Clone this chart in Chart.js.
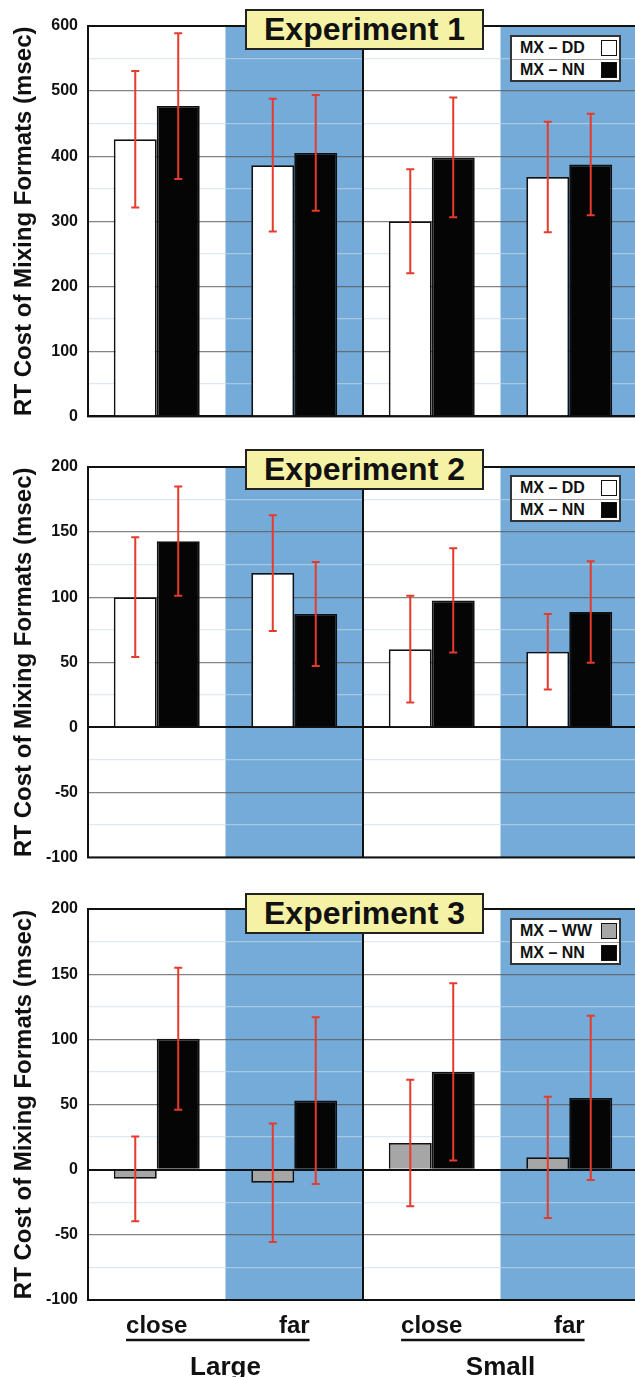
<!DOCTYPE html>
<html>
<head>
<meta charset="utf-8">
<script src="https://cdn.jsdelivr.net/npm/chart.js@4.4.1/dist/chart.umd.min.js"></script>
<style>
  * { box-sizing: border-box; }
  html, body { margin: 0; padding: 0; background: #fff; overflow: hidden; width: 635px; height: 1377px; }
  body { position: relative; font-family: "Liberation Sans", Arial, sans-serif; color: #111; }
  canvas { position: absolute; left: 0; }
  .title {
    position: absolute; left: 245px; width: 239px; height: 41px;
    border: 2px solid #222; background: #f6f2a5;
    font-weight: bold; font-size: 32px; line-height: 37px; text-align: center;
  }
  .legend { position: absolute; left: 510px; width: 111px; height: 47px; border: 2px solid #333; background: #fff; }
  .legend .row {
    height: 21.5px; display: flex; align-items: center; justify-content: space-between;
    padding: 0 2px 0 8px; font-weight: bold; font-size: 16px;
  }
  .legend .row + .row { border-top: 1px solid #999; }
  .legend .sw { width: 16px; height: 16px; border: 1.5px solid #111; }
</style>
</head>
<body>
<script>
const categories = ['close', 'far', 'close', 'far'];
const sizeGroups = ['Large', 'Small'];

// Experiment 1
const exp1DD = [426, 386, 300, 368];
const exp1DDErr = [105, 102, 80, 85];
const exp1NN = [477, 405, 398, 387];
const exp1NNErr = [112, 89, 92, 78];

// Experiment 2
const exp2DD = [100, 118.5, 60, 58];
const exp2DDErr = [46, 44.5, 41, 29];
const exp2NN = [143, 87, 97.5, 88.5];
const exp2NNErr = [42, 40, 40, 39];

// Experiment 3
const exp3WW = [-7, -10, 20.5, 9.5];
const exp3WWErr = [32.5, 45.5, 48.5, 46.5];
const exp3NN = [100.5, 53, 75, 55];
const exp3NNErr = [54.5, 64, 68, 63];

const FONT = '"Liberation Sans", Arial, sans-serif';
const BLUE = '#75abd9';

const panels = [
  { title: 'Experiment 1', top: 0, height: 436, padTop: 26, padBottom: 4, min: 0, max: 600, major: 100, minor: 50,
    titleTop: 9, legendTop: 35,
    series: [
      { label: 'MX – DD', data: exp1DD, errors: exp1DDErr, color: '#ffffff' },
      { label: 'MX – NN', data: exp1NN, errors: exp1NNErr, color: '#050505' }
    ] },
  { title: 'Experiment 2', top: 440, height: 437, padTop: 27, padBottom: 3, min: -100, max: 200, major: 50, minor: 25,
    titleTop: 449, legendTop: 475,
    series: [
      { label: 'MX – DD', data: exp2DD, errors: exp2DDErr, color: '#ffffff' },
      { label: 'MX – NN', data: exp2NN, errors: exp2NNErr, color: '#050505' }
    ] },
  { title: 'Experiment 3', top: 880, height: 497, padTop: 29, padBottom: 0, min: -100, max: 200, major: 50, minor: 25,
    titleTop: 893, legendTop: 918, showX: true,
    series: [
      { label: 'MX – WW', data: exp3WW, errors: exp3WWErr, color: '#a6a6a6' },
      { label: 'MX – NN', data: exp3NN, errors: exp3NNErr, color: '#050505' }
    ] }
];

// blue bands behind the "far" categories
const bands = {
  id: 'bands',
  beforeDraw(chart) {
    const {ctx, chartArea: a, scales: {x}} = chart;
    const w = x.getPixelForValue(1) - x.getPixelForValue(0);
    ctx.save();
    ctx.fillStyle = BLUE;
    [1, 3].forEach(i => {
      const c = x.getPixelForValue(i);
      ctx.fillRect(c - w / 2, a.top, w, a.bottom - a.top);
    });
    ctx.restore();
  }
};

// plot frame + divider between Large and Small
const frame = {
  id: 'frame',
  afterDatasetsDraw(chart) {
    const {ctx, chartArea: a, scales: {x}} = chart;
    const mid = (x.getPixelForValue(1) + x.getPixelForValue(2)) / 2;
    ctx.save();
    ctx.strokeStyle = '#111';
    ctx.lineWidth = 2;
    ctx.strokeRect(a.left, a.top, a.right - a.left, a.bottom - a.top);
    ctx.beginPath();
    ctx.moveTo(mid, a.top);
    ctx.lineTo(mid, a.bottom);
    ctx.stroke();
    ctx.restore();
  }
};

const errorBars = {
  id: 'errorBars',
  afterDatasetsDraw(chart) {
    const {ctx, scales: {y}} = chart;
    ctx.save();
    ctx.strokeStyle = '#e43b2c';
    ctx.lineWidth = 2;
    chart.data.datasets.forEach((ds, i) => {
      chart.getDatasetMeta(i).data.forEach((bar, j) => {
        const hi = y.getPixelForValue(ds.data[j] + ds.errors[j]);
        const lo = y.getPixelForValue(ds.data[j] - ds.errors[j]);
        ctx.beginPath();
        ctx.moveTo(bar.x, hi); ctx.lineTo(bar.x, lo);
        ctx.moveTo(bar.x - 4, hi); ctx.lineTo(bar.x + 4, hi);
        ctx.moveTo(bar.x - 4, lo); ctx.lineTo(bar.x + 4, lo);
        ctx.stroke();
      });
    });
    ctx.restore();
  }
};

// rule under "close ... far" for each size group
const groupRule = {
  id: 'groupRule',
  afterDraw(chart) {
    const {ctx, scales: {x}} = chart;
    if (!x.options.display) return;
    ctx.save();
    ctx.font = 'bold 24px ' + FONT;
    ctx.strokeStyle = '#111';
    ctx.lineWidth = 2.5;
    const yy = x.bottom - 4;
    sizeGroups.forEach((g, k) => {
      const a = 2 * k, b = 2 * k + 1;
      const l = x.getPixelForValue(a) - ctx.measureText(categories[a]).width / 2;
      const r = x.getPixelForValue(b) + ctx.measureText(categories[b]).width / 2;
      ctx.beginPath();
      ctx.moveTo(l, yy);
      ctx.lineTo(r, yy);
      ctx.stroke();
    });
    ctx.restore();
  }
};

function addTitle(p) {
  const d = document.createElement('div');
  d.className = 'title';
  d.style.top = p.titleTop + 'px';
  d.textContent = p.title;
  document.body.appendChild(d);
}

function addLegend(p) {
  const box = document.createElement('div');
  box.className = 'legend';
  box.style.top = p.legendTop + 'px';
  p.series.forEach(s => {
    const row = document.createElement('div');
    row.className = 'row';
    const t = document.createElement('span');
    t.textContent = s.label;
    const sw = document.createElement('span');
    sw.className = 'sw';
    sw.style.background = s.color;
    row.appendChild(t);
    row.appendChild(sw);
    box.appendChild(row);
  });
  document.body.appendChild(box);
}

function makeChart(p) {
  const canvas = document.createElement('canvas');
  canvas.width = 638;
  canvas.height = p.height;
  canvas.style.top = p.top + 'px';
  document.body.appendChild(canvas);

  const scales = {
    x: {
      display: !!p.showX,
      grid: { display: false },
      border: { display: false },
      ticks: { color: '#111', padding: 4, maxRotation: 0, font: { family: FONT, size: 24, weight: 'bold' } }
    },
    y: {
      min: p.min,
      max: p.max,
      border: { display: false },
      grid: {
        drawTicks: false,
        color: c => c.tick.value === 0 ? '#111' : (c.tick.value % p.major === 0 ? 'rgba(90,90,90,0.75)' : 'rgba(200,220,230,0.6)'),
        lineWidth: c => c.tick.value === 0 ? 2 : 1.2
      },
      ticks: {
        stepSize: p.minor,
        padding: 10,
        color: '#111',
        font: { family: FONT, size: 16, weight: 'bold' },
        callback: v => v % p.major === 0 ? v : ''
      },
      title: {
        display: true,
        text: 'RT Cost of Mixing Formats (msec)',
        color: '#111',
        font: { family: FONT, size: 24, weight: 'bold' },
        padding: { top: 10, bottom: 0 }
      },
      afterFit: s => { s.width = 88; }
    }
  };
  if (p.showX) {
    scales.x.afterFit = s => { s.height = 44; };
    scales.x2 = {
      type: 'category',
      labels: sizeGroups,
      position: 'bottom',
      weight: 1,
      offset: true,
      grid: { display: false },
      border: { display: false },
      ticks: { color: '#111', padding: 0, maxRotation: 0, font: { family: FONT, size: 26, weight: 'bold' } },
      afterFit: s => { s.height = 33; }
    };
  }

  new Chart(canvas, {
    type: 'bar',
    data: {
      labels: categories,
      datasets: p.series.map(s => ({
        label: s.label,
        data: s.data,
        errors: s.errors,
        xAxisID: 'x',
        backgroundColor: s.color,
        borderColor: '#111',
        borderWidth: 1.8,
        categoryPercentage: 0.625,
        barPercentage: 1
      }))
    },
    options: {
      responsive: false,
      animation: false,
      devicePixelRatio: 1,
      layout: { padding: { top: p.padTop, bottom: p.padBottom, left: 0, right: 0 } },
      plugins: { legend: { display: false }, tooltip: { enabled: false } },
      scales
    },
    plugins: [bands, frame, errorBars, groupRule]
  });

  addTitle(p);
  addLegend(p);
}

panels.forEach(makeChart);
</script>
</body>
</html>
